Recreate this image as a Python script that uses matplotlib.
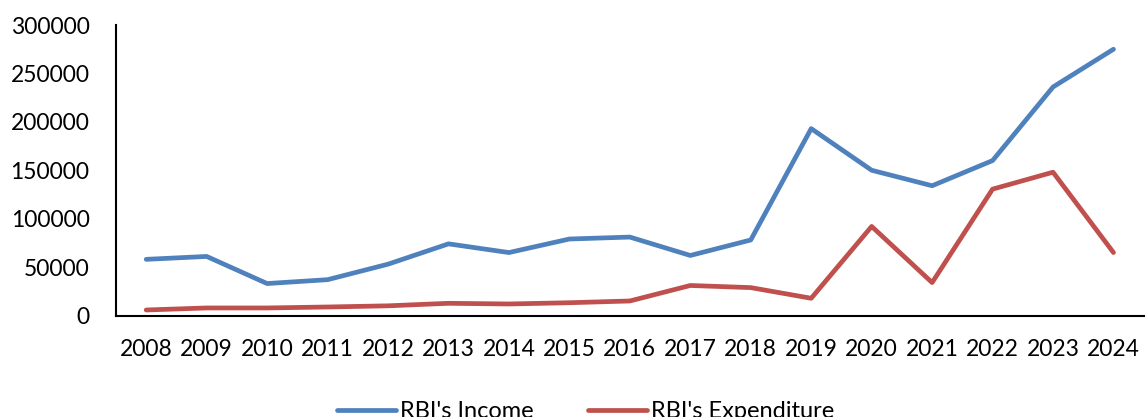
import matplotlib
matplotlib.use("Agg")
import matplotlib.pyplot as plt

years = [str(y) for y in range(2008, 2025)]
income = [58000, 61000, 33000, 37000, 53000, 74000, 65000, 79000, 81000,
          62000, 78000, 193000, 150000, 134000, 160000, 236000, 275000]
expenditure = [5700, 7800, 7800, 8800, 10000, 12600, 11900, 13200, 15000,
               31000, 28800, 17800, 92000, 34000, 130500, 148000, 65000]

plt.rcParams['font.family'] = ['Lato', 'DejaVu Sans']

fig = plt.figure(figsize=(11.46, 4.17), dpi=100)
ax = fig.add_axes([0.1012, 0.2434, 0.8968, 0.6966])

x = list(range(len(years)))
l1, = ax.plot(x, income, color='#4F81BD', lw=3.4, solid_capstyle='round',
              solid_joinstyle='round', label="RBI's Income")
l2, = ax.plot(x, expenditure, color='#C0504D', lw=3.4, solid_capstyle='round',
              solid_joinstyle='round', label="RBI's Expenditure")

ax.set_xlim(-0.5, len(years) - 0.5)
ax.set_ylim(0, 300000)
ax.set_yticks(range(0, 300001, 50000))
ax.set_xticks(x)
ax.set_xticklabels(years)
ax.tick_params(axis='both', length=0, labelsize=16.5, colors='black')
ax.tick_params(axis='x', pad=17)
ax.tick_params(axis='y', pad=19)
for s in ['top', 'right']:
    ax.spines[s].set_visible(False)
for s in ['left', 'bottom']:
    ax.spines[s].set_color('black')
    ax.spines[s].set_linewidth(1.5)

fig.legend(handles=[l1, l2], loc='center', bbox_to_anchor=(0.511, 0.012),
           ncol=2, frameon=False, fontsize=17, handlelength=2.5,
           handletextpad=0.15, columnspacing=2.3)

fig.savefig('out.png', dpi=100)
